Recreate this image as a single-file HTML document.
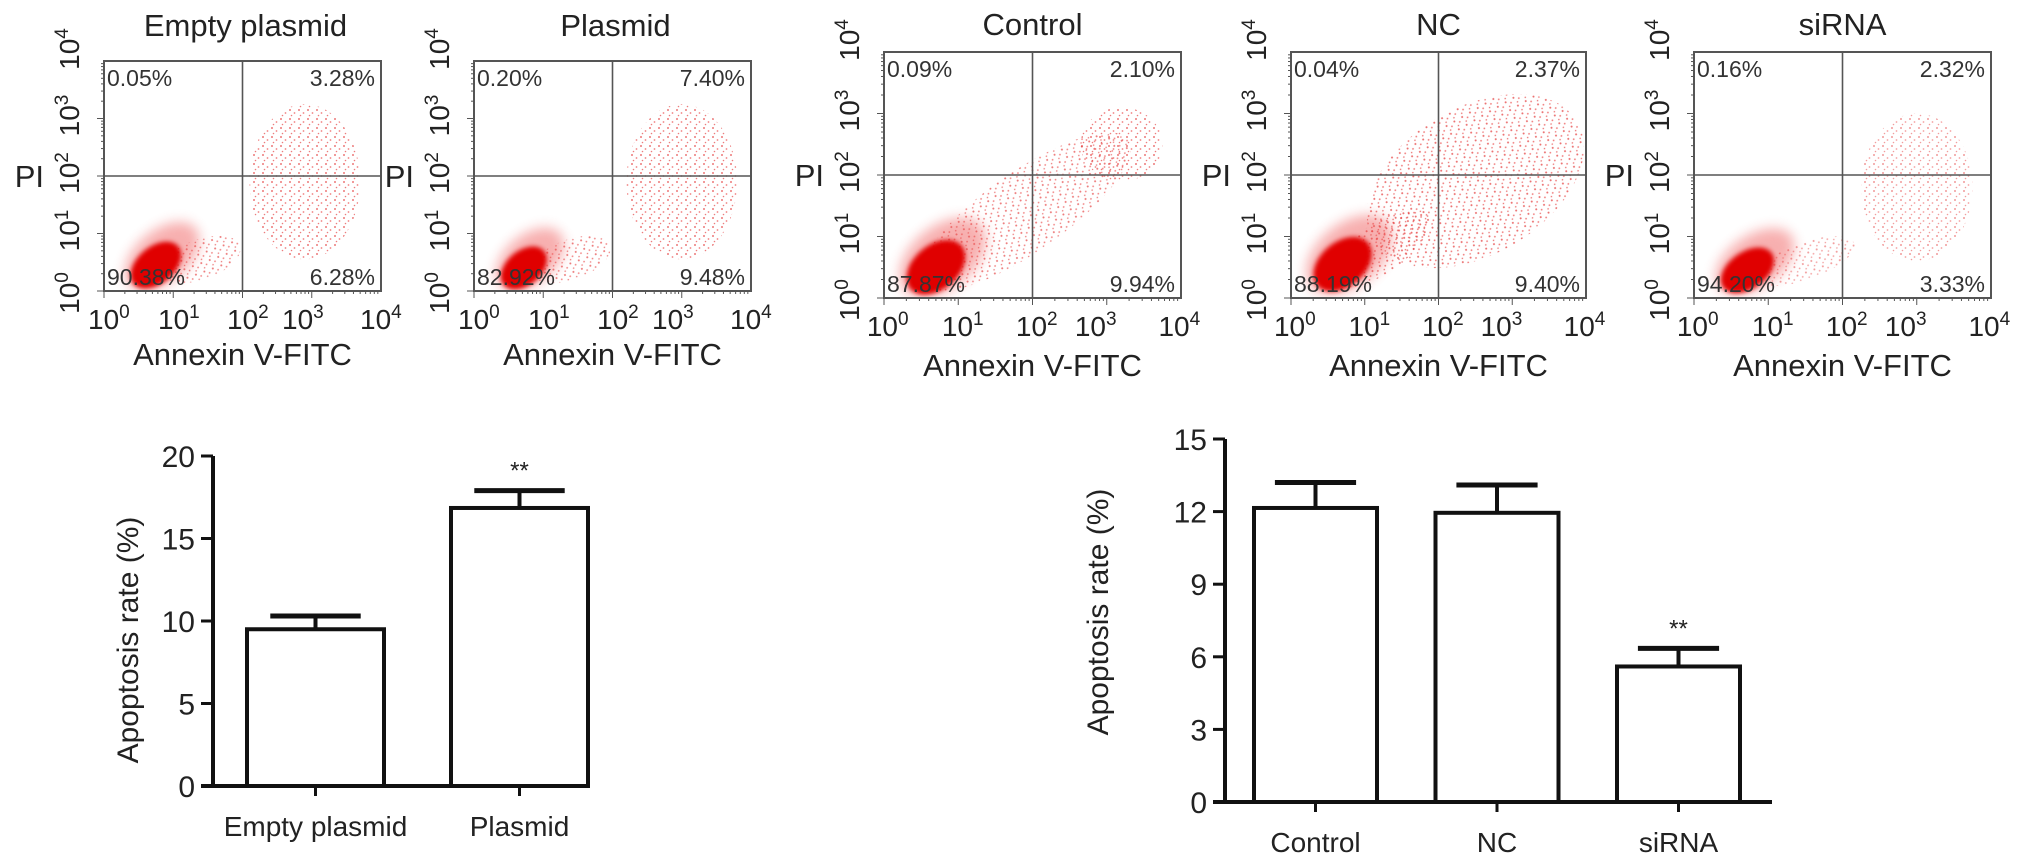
<!DOCTYPE html>
<html><head><meta charset="utf-8"><style>
html,body{margin:0;padding:0;background:#fff;}
svg{display:block;font-family:"Liberation Sans",Arial,sans-serif;}
</style></head><body>
<svg id="fig" width="2032" height="864" viewBox="0 0 2032 864" xmlns="http://www.w3.org/2000/svg">
<defs>
<pattern id="dots" width="9" height="9" patternUnits="userSpaceOnUse">
<circle cx="2" cy="2" r="1" fill="#e02020"/><circle cx="6.5" cy="5" r="0.9" fill="#e83030"/><circle cx="3.5" cy="7.5" r="0.8" fill="#e02828"/>
</pattern>
<filter id="blur" x="-50%" y="-50%" width="200%" height="200%"><feGaussianBlur stdDeviation="2.5"/></filter>
<filter id="blur2" x="-50%" y="-50%" width="200%" height="200%"><feGaussianBlur stdDeviation="6"/></filter>
</defs>
</svg>
<script>
// ---------- flow cytometry data ----------
const flowTitles = ["Empty plasmid","Plasmid","Control","NC","siRNA"];
const flowUL = ["0.05%","0.20%","0.09%","0.04%","0.16%"];
const flowUR = ["3.28%","7.40%","2.10%","2.37%","2.32%"];
const flowLL = ["90.38%","82.92%","87.87%","88.19%","94.20%"];
const flowLR = ["6.28%","9.48%","9.94%","9.40%","3.33%"];
// clusters in log10 units: [cx, cy, rx, ry, rotationDeg]
const denseClusters = [[0.75,0.45,0.42,0.32,-40],[0.72,0.4,0.38,0.3,-40],[0.7,0.5,0.45,0.36,-40],[0.7,0.55,0.45,0.36,-40],[0.72,0.45,0.4,0.3,-35]];
const sparseClusters = [
 [[2.9,1.9,0.8,1.35,0],[1.4,0.55,0.6,0.35,-20]],
 [[3.0,1.9,0.8,1.35,0],[1.4,0.55,0.6,0.35,-20]],
 [[1.9,1.4,1.7,0.65,-35],[3.2,2.5,0.55,0.6,0]],
 [[2.5,1.9,1.6,1.2,-30],[1.2,0.8,0.8,0.4,-35]],
 [[3.0,1.8,0.75,1.2,0],[1.5,0.6,0.7,0.3,-20]]
];
const sparseOpacity = [0.6,0.6,0.6,0.65,0.45];
const flowTicks = ["0","1","2","3","4"];
// layout (not data)
const boxes = [[104,61,277,230],[474,61,277,230],[884,52,297,246],[1291,52,295,246],[1694,52,297,246]];
const xLabelOff = [-16,54,123,178,256];

// ---------- bar chart data ----------
const catsA = ["Empty plasmid","Plasmid"];
const valsA = [9.5,16.85];
const errA = [10.3,17.9];
const sigA = ["","**"];
const ticksA = [0,5,10,15,20];
const catsB = ["Control","NC","siRNA"];
const valsB = [12.15,11.95,5.6];
const errB = [13.2,13.1,6.35];
const sigB = ["","","**"];
const ticksB = [0,3,6,9,12,15];

const NS="http://www.w3.org/2000/svg";
const svg=document.getElementById('fig');
function mk(tag,attrs,parent){const e=document.createElementNS(NS,tag);for(const k in attrs)e.setAttribute(k,attrs[k]);(parent||svg).appendChild(e);return e;}
function txt(s,attrs,parent){const e=mk('text',attrs,parent);e.textContent=s;return e;}

flowTitles.forEach((t,i)=>{
  const [L,T,W,H]=boxes[i];
  const g=mk('g',{});
  
  
  const sx=v=>L+v/4*W, sy=v=>T+H-v/4*H;
  const clip=mk('clipPath',{id:'clip'+i},g);
  mk('rect',{x:L,y:T,width:W,height:H},clip);
  const cg=mk('g',{'clip-path':'url(#clip'+i+')'},g);
  sparseClusters[i].forEach(c=>{
    const e=mk('ellipse',{cx:sx(c[0]),cy:sy(c[1]),rx:c[2]/4*W,ry:c[3]/4*H,fill:'url(#dots)',opacity:sparseOpacity[i],transform:`rotate(${c[4]} ${sx(c[0])} ${sy(c[1])})`},cg);
    
    
  });
  const d=denseClusters[i];
  const halo=mk('ellipse',{cx:sx(d[0]+0.15),cy:sy(d[1]+0.05),rx:d[2]*1.5/4*W,ry:d[3]*1.4/4*H,fill:'#ee5050',opacity:0.45,filter:'url(#blur2)',transform:`rotate(${d[4]} ${sx(d[0])} ${sy(d[1])})`},cg);
  
  
  const dc=mk('ellipse',{cx:sx(d[0]),cy:sy(d[1]),rx:d[2]/4*W,ry:d[3]/4*H,fill:'#e00000',filter:'url(#blur)',transform:`rotate(${d[4]} ${sx(d[0])} ${sy(d[1])})`},cg);
  
  
  const box=mk('rect',{x:L,y:T,width:W,height:H,fill:'none',stroke:'#555','stroke-width':2},g);
  
  
  mk('line',{x1:sx(2),y1:T,x2:sx(2),y2:T+H,stroke:'#555','stroke-width':1.6},g);
  mk('line',{x1:L,y1:sy(2),x2:L+W,y2:sy(2),stroke:'#555','stroke-width':1.6},g);
  for(let dec=0;dec<4;dec++)for(let m=1;m<10;m++){
    const v=dec+Math.log10(m);const len=m==1?7:3;
    mk('line',{x1:sx(v),y1:T+H,x2:sx(v),y2:T+H+len,stroke:'#555','stroke-width':1},g);
    mk('line',{x1:L,y1:sy(v),x2:L-len,y2:sy(v),stroke:'#555','stroke-width':1},g);
  }
  const tt=txt(t,{x:L+W/2+(i<2?3:0),y:T-(i<2?25:17),'text-anchor':'middle','font-size':31,fill:'#222'},g);
  
  
  const fs=23;
  txt(flowUL[i],{x:L+3,y:T+25,'font-size':fs,fill:'#333'},g);
  txt(flowUR[i],{x:L+W-6,y:T+25,'text-anchor':'end','font-size':fs,fill:'#333'},g);
  txt(flowLL[i],{x:L+3,y:T+H-6,'font-size':fs,fill:'#333'},g);
  txt(flowLR[i],{x:L+W-6,y:T+H-6,'text-anchor':'end','font-size':fs,fill:'#333'},g);
  flowTicks.forEach((p,k)=>{
    const xl=txt('',{x:L+xLabelOff[k]*W/277,y:T+H+38,'font-size':28,fill:'#222'},g);
    
    
    const a=document.createElementNS(NS,'tspan');a.textContent='10';xl.appendChild(a);
    const b=document.createElementNS(NS,'tspan');b.textContent=p;b.setAttribute('dy','-11');b.setAttribute('font-size','19');xl.appendChild(b);
    const yy=sy(k)-(k==4?12:(k==0?-2:3));
    const yl=txt('',{x:0,y:0,'font-size':28,fill:'#222','text-anchor':'middle',transform:`translate(${L-25} ${yy}) rotate(-90)`},g);
    
    
    const a2=document.createElementNS(NS,'tspan');a2.textContent='10';yl.appendChild(a2);
    const b2=document.createElementNS(NS,'tspan');b2.textContent=p;b2.setAttribute('dy','-11');b2.setAttribute('font-size','19');yl.appendChild(b2);
  });
  const xt=txt('Annexin V-FITC',{x:L+W/2,y:T+H+(i<2?74:78),'text-anchor':'middle','font-size':31,fill:'#222'},g);
  
  
  const yt=txt('PI',{x:L-60,y:sy(2)+11,'text-anchor':'end','font-size':31,fill:'#222'},g);
  
  
});

function barChart(cfg){
  const g=mk('g',{});
  
  
  const y=v=>cfg.y0-(v-0)/cfg.max*(cfg.y0-cfg.yTop);
  const ax=mk('line',{x1:cfg.ax,y1:cfg.yTop,x2:cfg.ax,y2:cfg.y0,stroke:'#111','stroke-width':4},g);
  
  
  const xa=mk('line',{x1:cfg.ax-12,y1:cfg.y0,x2:cfg.xEnd,y2:cfg.y0,stroke:'#111','stroke-width':4},g);
  
  
  cfg.ticks.forEach(t=>{
    mk('line',{x1:cfg.ax-12,y1:y(t),x2:cfg.ax,y2:y(t),stroke:'#111','stroke-width':3},g);
    const tl=txt(String(t),{x:cfg.ax-18,y:y(t)+11,'text-anchor':'end','font-size':30,fill:'#222'},g);
    
    
  });
  cfg.cats.forEach((c,i)=>{
    const x0=cfg.barX0+i*cfg.step, x1=x0+cfg.bw, cx=(x0+x1)/2;
    const b=mk('rect',{x:x0,y:y(cfg.vals[i]),width:cfg.bw,height:cfg.y0-y(cfg.vals[i]),fill:'#fff',stroke:'#111','stroke-width':4},g);
    
    
    mk('line',{x1:cx,y1:y(cfg.vals[i]),x2:cx,y2:y(cfg.err[i]),stroke:'#111','stroke-width':4},g);
    const cap=mk('line',{x1:cx-cfg.bw*0.33,y1:y(cfg.err[i]),x2:cx+cfg.bw*0.33,y2:y(cfg.err[i]),stroke:'#111','stroke-width':5},g);
    
    
    mk('line',{x1:cx,y1:cfg.y0,x2:cx,y2:cfg.y0+10,stroke:'#111','stroke-width':3},g);
    const xl=txt(c,{x:cx,y:cfg.y0+50,'text-anchor':'middle','font-size':28,fill:'#222'},g);
    
    
    if(cfg.sig[i]){const s=txt(cfg.sig[i],{x:cx,y:y(cfg.err[i])-12,'text-anchor':'middle','font-size':24,fill:'#222'},g);
      
      }
  });
  const yt=txt('Apoptosis rate (%)',{x:0,y:0,'text-anchor':'middle','font-size':30,fill:'#222',transform:`translate(${cfg.ylx} ${cfg.yly}) rotate(-90)`},g);
  
  
}
barChart({name:'bar-chart-plasmid',cats:catsA,vals:valsA,err:errA,sig:sigA,ticks:ticksA,max:20,ax:213,y0:786,yTop:456,xEnd:590,barX0:247,bw:137,step:204,ylx:138,yly:640});
barChart({name:'bar-chart-sirna',cats:catsB,vals:valsB,err:errB,sig:sigB,ticks:ticksB,max:15,ax:1225,y0:802,yTop:439,xEnd:1772,barX0:1254,bw:123,step:181.5,ylx:1108,yly:612});
</script>
</body></html>
